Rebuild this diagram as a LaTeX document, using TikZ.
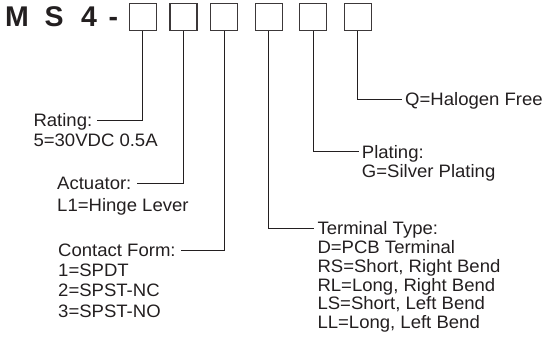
\documentclass[tikz,border=0pt]{standalone}
\usepackage{fontspec}
\setmainfont{Liberation Sans}
\newfontfamily\bodyfont[FakeStretch=1.03]{Liberation Sans}
\definecolor{ink}{RGB}{35,31,32}
\definecolor{boxc}{RGB}{60,56,57}
\begin{document}
\begin{tikzpicture}[x=1pt,y=-1pt,
  every node/.style={text=ink},
  slot/.style={draw=boxc,line width=1.1pt,minimum size=27pt,inner sep=0pt},
  ttl/.style={font=\fontsize{28.5}{30}\bfseries\selectfont,inner sep=0pt,anchor=base west},
  hd/.style={font=\bodyfont\fontsize{18}{20}\selectfont,inner ysep=0pt,text depth=0pt},
  hdl/.style={hd,inner xsep=5pt,anchor=west},
  hdr/.style={hd,inner xsep=3pt,anchor=west},
  val/.style={align=left,inner sep=0pt,anchor=north west},
  conn/.style={draw=ink,line width=0.9pt}]
\useasboundingbox (0,0) rectangle (546,344);
% title
\node[ttl] (tM) at (5,27) {M};
\node[ttl] (tS) at (44.5,27) {S};
\node[ttl] (t4) at (81,27) {4};
\node[ttl] (td) at (108.5,27) {-};
% boxes
\node[slot] (b1) at (142.7,17) {};
\node[slot] (b2) at (183.5,17) {};
\node[slot] (b3) at (224.2,17) {};
\node[slot] (b4) at (268.6,17) {};
\node[slot] (b5) at (313,17) {};
\node[slot] (b6) at (357.6,17) {};
% left side
\node[hdl] (rat) at (28.3,120) {Rating:};
\node[val,font=\bodyfont\fontsize{18}{20.6}\selectfont] (ratv) at (33.3,134.1) {5=30VDC 0.5A};
\node[hdl] (act) at (52,183.3) {Actuator:};
\node[val,font=\bodyfont\fontsize{18}{20.6}\selectfont] (actv) at (57,197.8) {L1=Hinge Lever};
\node[hdl] (con) at (53,250) {Contact Form:};
\node[val,font=\bodyfont\fontsize{18}{20.3}\selectfont] (conv) at (58,263.8) {1=SPDT\\2=SPST-NC\\3=SPST-NO};
% right side
\node[hdr] (hal) at (402,99.3) {Q=Halogen Free};
\node[hdr] (pla) at (358.7,151.7) {Plating:};
\node[val,font=\bodyfont\fontsize{18}{19}\selectfont] (plav) at (361.7,164.2) {G=Silver Plating};
\node[hdr] (ter) at (314.3,228.3) {Terminal Type:};
\node[val,font=\bodyfont\fontsize{18}{18.7}\selectfont] (terv) at (317.3,240.5) {D=PCB Terminal\\RS=Short, Right Bend\\RL=Long, Right Bend\\LS=Short, Left Bend\\LL=Long, Left Bend};
% connectors
\draw[conn] (b1.south) |- (rat.east);
\draw[conn] (b2.south) |- (act.east);
\draw[conn] (b3.south) |- (con.east);
\draw[conn] (b4.south) |- (ter.west);
\draw[conn] (b5.south) |- (pla.west);
\draw[conn] (b6.south) |- (hal.west);
\end{tikzpicture}
\end{document}
